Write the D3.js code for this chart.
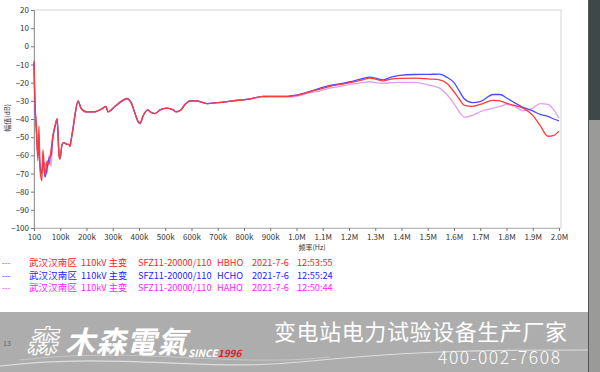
<html>
<head>
<meta charset="utf-8">
<script src="https://d3js.org/d3.v7.min.js"></script>
<style>
  body { margin: 0; background: #fff; }
  text { font-family: "Noto Sans CJK SC", "Noto Sans", sans-serif; }
</style>
</head>
<body>
<div id="chart"></div>
<script>
// frequency in kHz
let freqK = [
  0.1, 4, 8, 11, 15, 19, 23, 30, 34, 42,
  50, 57, 65, 72, 80, 88, 91, 95, 99, 107,
  114, 126, 133, 137, 141, 149, 156, 168, 179, 198,
  232, 263, 274, 282, 309, 335, 354, 370, 385, 396,
  404, 415, 434, 442, 461, 480, 507, 530, 541, 560,
  575, 594, 617, 659, 700, 758, 820, 872, 920, 964,
  1000, 1051, 1090, 1128, 1170, 1204, 1250, 1280, 1300, 1330,
  1360, 1394, 1450, 1509, 1545, 1573, 1600, 1620, 1640, 1670,
  1699, 1749, 1775, 1802, 1830, 1863, 1900, 1928, 1958, 1980,
  2000];

let hbho = [
  -8, -32, -41, -52, -63, -44, -68, -74, -57, -71,
  -63, -65, -57, -49, -44, -40, -46, -60, -62, -54,
  -53, -54, -54, -55, -52, -45, -38, -30, -34, -36,
  -36, -34, -33, -36, -33, -30, -28.6, -31, -37, -41,
  -42.5, -38.5, -35, -36, -37, -35, -34, -35, -36, -35,
  -32, -30, -30, -31.5, -31, -30, -29, -27.5, -27.5, -27.5,
  -27, -25, -23.5, -22, -21, -20, -18.5, -17.5, -18, -19,
  -18, -17.6, -17.5, -18, -18.5, -20.4, -25, -29, -32.5, -33,
  -32, -29.7, -30, -31.4, -32.5, -34, -38, -43.5, -49.5, -49,
  -46.8];

let hcho = [
  -9, -34, -43, -50, -60, -58, -66, -70, -62, -72,
  -67, -62, -60, -50, -44, -40, -46, -59, -62, -54,
  -53, -54, -54, -55, -52, -45, -38, -30, -34, -36,
  -36, -34, -33, -36, -33, -30, -28.8, -31, -37, -41.5,
  -42.5, -38.5, -35, -36, -37, -35, -34, -35, -36, -35,
  -32, -30, -30, -31.5, -31, -30, -29, -27.5, -27.5, -27.5,
  -26.8, -24.8, -23, -21.5, -20.5, -19.5, -17.8, -17, -17.5, -18.5,
  -17, -16, -15.5, -15.4, -15.3, -17, -20, -24.5, -29, -31,
  -30.5, -26.5, -26.5, -28.6, -31, -33.6, -35.5, -37.5, -38.5, -40,
  -41];

let haho = [
  -10, -35, -45, -55, -58, -50, -64, -68, -66, -64,
  -70, -60, -66, -52, -45, -41, -47, -58, -61, -54,
  -53, -54, -54, -55, -52, -45, -38, -30.5, -34, -36,
  -36, -34, -33.5, -36, -33, -30.5, -29, -31, -37, -41,
  -42, -38.5, -35, -36, -37, -35, -34, -35, -36, -35,
  -32, -30.5, -30, -31.5, -31, -30, -29, -28, -28, -28,
  -27.5, -25.5, -24.5, -23, -22, -21, -20, -19.5, -20, -20.4,
  -20, -19.8, -19.8, -21.5, -23, -26.5, -31.5, -36, -39, -38,
  -36, -34, -33, -32, -33, -35.5, -34, -31.5, -32, -35,
  -39.6];

let xTicks = [100, 100000, 200000, 300000, 400000, 500000, 600000, 700000, 800000, 900000,
  1000000, 1100000, 1200000, 1300000, 1400000, 1500000, 1600000, 1700000, 1800000, 1900000, 2000000];
let yTicks = [20, 10, 0, -10, -20, -30, -40, -50, -60, -70, -80, -90, -100];

let legendRows = [
  ["武汉汉南区", "110kV 主变", "SFZ11-20000/110", "HBHO", "2021-7-6", "12:53:55"],
  ["武汉汉南区", "110kV 主变", "SFZ11-20000/110", "HCHO", "2021-7-6", "12:55:24"],
  ["武汉汉南区", "110kV 主变", "SFZ11-20000/110", "HAHO", "2021-7-6", "12:50:44"]
];
let legendCols = [29, 81, 138, 217, 252, 297];
let textColors = ["#ff1a1a", "#2222ff", "#ff22ff"];
let lineColors = ["#ff3b3b", "#4a4aff", "#dca0f0"];
let seriesVals = [hbho, hcho, haho];

let svg = d3.select("#chart").append("svg").attr("width", 600).attr("height", 372);

let x = d3.scaleLinear().domain([100, 2000000]).range([34, 559]);
let y = d3.scaleLinear().domain([-100, 20]).range([228, 10]);

// right screen edge strip
svg.append("rect").attr("x", 588).attr("y", 0).attr("width", 12).attr("height", 372).attr("fill", "#9a9a98");
svg.append("rect").attr("x", 588).attr("y", 0).attr("width", 12).attr("height", 120).attr("fill", "#3e4848");
svg.append("line").attr("x1", 588.5).attr("x2", 588.5).attr("y1", 0).attr("y2", 372).attr("stroke", "#555").attr("stroke-width", 1);

// plot frame
svg.append("rect").attr("x", 34).attr("y", 10).attr("width", 527).attr("height", 218)
  .attr("fill", "none").attr("stroke", "#d4d4d4");

// y axis
let yAxis = svg.append("g").attr("transform", "translate(34,0)")
  .call(d3.axisLeft(y).tickValues(yTicks).tickSize(3).tickPadding(2));
yAxis.select(".domain").attr("stroke", "#999");
yAxis.selectAll(".tick line").attr("stroke", "#777");
yAxis.selectAll("text").attr("font-size", 8).attr("fill", "#333");

// x axis
let fmt = d => d < 1000 ? String(d) : d < 1000000 ? (d / 1000) + "k" : (d / 1000000).toFixed(1) + "M";
let xAxis = svg.append("g").attr("transform", "translate(0,228)")
  .call(d3.axisBottom(x).tickValues(xTicks).tickFormat(fmt).tickSize(3).tickPadding(3));
xAxis.select(".domain").attr("stroke", "#bbb");
xAxis.selectAll(".tick line").attr("stroke", "#777").attr("y2", 3);
xAxis.selectAll("text").attr("font-size", 8).attr("fill", "#333");

// axis titles
svg.append("text").attr("transform", "translate(10,118) rotate(-90)")
  .attr("text-anchor", "middle").attr("font-size", 7).attr("fill", "#333").text("幅值(dB)");
svg.append("text").attr("x", 312).attr("y", 250)
  .attr("text-anchor", "middle").attr("font-size", 7).attr("fill", "#333").text("频率(Hz)");

// curves (pink, blue, red on top)
let line = d3.line().x(d => x(d[0] * 1000)).y(d => y(d[1])).curve(d3.curveMonotoneX);
[2, 1, 0].forEach(i => {
  let pts = freqK.map((f, j) => [f, seriesVals[i][j]]);
  svg.append("path").attr("d", line(pts)).attr("fill", "none")
    .attr("stroke", lineColors[i]).attr("stroke-width", 1.3);
});

// legend
let leg = svg.append("g");
legendRows.forEach((row, r) => {
  let yy = 266 + r * 12.5;
  leg.append("text").attr("x", 2).attr("y", yy).attr("font-size", 8)
    .attr("fill", textColors[r]).text("---");
  row.forEach((t, c) => {
    let tx = leg.append("text").attr("x", legendCols[c]).attr("y", yy)
      .attr("font-size", c == 0 ? 9.5 : 9.2).attr("fill", textColors[r]).text(t);
    if (c == 0) tx.attr("textLength", 48);
  });
});

// bottom banner
let ban = svg.append("g");
ban.append("rect").attr("x", 0).attr("y", 312).attr("width", 588).attr("height", 60).attr("fill", "#adadad");
ban.append("path").attr("d", "M0,366 C120,352 200,372 300,362 S460,350 588,350")
  .attr("fill", "none").attr("stroke", "#e8e8e8").attr("stroke-width", 1.2).attr("opacity", 0.8);
ban.append("path").attr("d", "M20,360 C140,346 230,368 330,357")
  .attr("fill", "none").attr("stroke", "#d8d8d8").attr("stroke-width", 0.8).attr("opacity", 0.7);
ban.append("text").attr("x", 3).attr("y", 346).attr("font-size", 7).attr("fill", "#666").text("13");
ban.append("text").attr("x", 27).attr("y", 352).attr("font-size", 30).attr("font-weight", "bold")
  .attr("font-style", "italic").attr("fill", "none").attr("stroke", "#fff").attr("stroke-width", 1.1).text("森");
ban.append("text").attr("x", 65).attr("y", 353).attr("font-size", 30).attr("font-weight", "bold")
  .attr("font-style", "italic").attr("fill", "#fff").attr("textLength", 122).text("木森電氣");
let since = ban.append("text").attr("x", 188).attr("y", 357).attr("font-size", 10)
  .attr("font-style", "italic").attr("font-weight", "bold").attr("font-family", "DejaVu Serif");
since.append("tspan").attr("fill", "#fff").text("SINCE");
since.append("tspan").attr("fill", "#e02020").text("1996");
ban.append("text").attr("x", 274).attr("y", 340).attr("font-size", 22).attr("fill", "#fff")
  .attr("textLength", 293).text("变电站电力试验设备生产厂家");
ban.append("text").attr("x", 438).attr("y", 364).attr("font-size", 17.5).attr("fill", "#fff")
  .attr("textLength", 122).attr("font-family", "Roboto").attr("font-weight", 300).text("400-002-7608");
</script>
</body>
</html>
